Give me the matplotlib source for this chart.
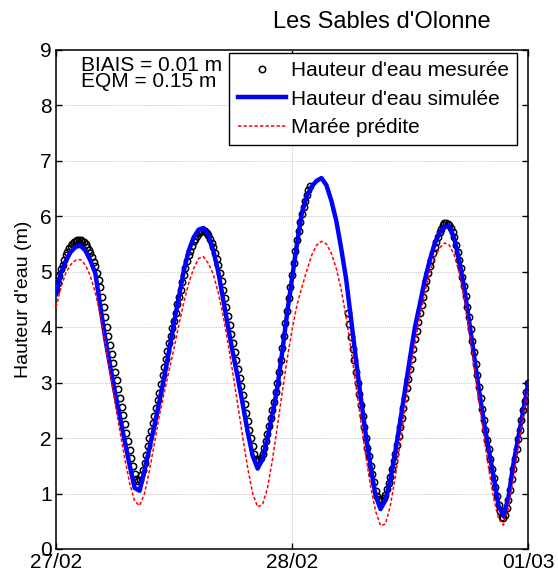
import numpy as np
import matplotlib
matplotlib.use('Agg')
import matplotlib.pyplot as plt

plt.rcParams['font.family'] = ['Liberation Sans', 'DejaVu Sans']

# water level, 27/02 00h -> 01/03 00h
# simulated and predicted: every 30 min
sim_level = [
    4.60, 4.98, 5.20, 5.36, 5.45, 5.47, 5.38, 5.20, 4.97, 4.38,
    3.80, 3.30, 2.82, 2.38, 1.93, 1.50, 1.10, 1.05, 1.42, 1.82,
    2.22, 2.65, 3.10, 3.58, 4.08, 4.55, 5.02, 5.38, 5.62, 5.76,
    5.79, 5.66, 5.38, 5.00, 4.50, 4.00, 3.52, 3.08, 2.60, 2.10,
    1.68, 1.45, 1.62, 2.00, 2.42, 2.90, 3.55, 4.25, 4.88, 5.50,
    6.06, 6.36, 6.54, 6.64, 6.69, 6.56, 6.28, 5.92, 5.42, 4.87,
    4.15, 3.42, 2.72, 2.06, 1.48, 0.96, 0.72, 0.88, 1.25, 1.75,
    2.30, 2.88, 3.45, 4.00, 4.42, 4.85, 5.20, 5.50, 5.70, 5.81,
    5.82, 5.60, 5.20, 4.72, 4.12, 3.50, 2.88, 2.30, 1.80, 1.30,
    0.78, 0.60, 0.92, 1.52, 2.00, 2.48, 2.97,
]
tide_level = [
    4.36, 4.72, 4.98, 5.13, 5.21, 5.22, 5.12, 4.92, 4.62, 4.22,
    3.72, 3.18, 2.64, 2.12, 1.62, 1.18, 0.86, 0.78, 1.00, 1.42,
    1.90, 2.40, 2.82, 3.22, 3.62, 4.05, 4.45, 4.80, 5.06, 5.24,
    5.27, 5.15, 4.95, 4.62, 4.20, 3.70, 3.15, 2.58, 2.00, 1.45,
    1.00, 0.76, 0.80, 1.10, 1.60, 2.20, 2.82, 3.42, 3.95, 4.40,
    4.72, 5.02, 5.30, 5.48, 5.55, 5.50, 5.33, 5.06, 4.68, 4.18,
    3.60, 2.95, 2.30, 1.68, 1.12, 0.68, 0.42, 0.45, 0.78, 1.30,
    1.92, 2.55, 3.15, 3.70, 4.20, 4.62, 4.98, 5.25, 5.43, 5.52,
    5.48, 5.30, 4.98, 4.52, 3.95, 3.32, 2.68, 2.05, 1.45, 0.92,
    0.55, 0.43, 0.72, 1.25, 1.85, 2.40, 2.85,
]

# tide gauge: every 10 min, one row per hour (gauge gap around the 28/02 high tide)
nan = np.nan
obs_level = [
    4.67, 4.80, 4.92, 5.05, 5.13, 5.22,
    5.30, 5.36, 5.42, 5.47, 5.50, 5.53,
    5.56, 5.57, 5.58, 5.58, 5.56, 5.53,
    5.50, 5.45, 5.40, 5.34, 5.26, 5.18,
    5.10, 4.97, 4.85, 4.72, 4.54, 4.36,
    4.18, 4.01, 3.85, 3.68, 3.52, 3.36,
    3.20, 3.04, 2.88, 2.72, 2.56, 2.41,
    2.25, 2.09, 1.94, 1.78, 1.64, 1.49,
    1.35, 1.27, 1.23, 1.25, 1.33, 1.43,
    1.55, 1.70, 1.85, 2.00, 2.13, 2.27,
    2.40, 2.54, 2.68, 2.82, 2.97, 3.13,
    3.28, 3.43, 3.57, 3.72, 3.85, 3.99,
    4.12, 4.26, 4.41, 4.55, 4.68, 4.82,
    4.95, 5.07, 5.19, 5.30, 5.38, 5.47,
    5.55, 5.60, 5.65, 5.70, 5.72, 5.74,
    5.74, 5.73, 5.70, 5.66, 5.59, 5.52,
    5.45, 5.34, 5.23, 5.12, 4.97, 4.83,
    4.68, 4.52, 4.36, 4.20, 4.04, 3.88,
    3.72, 3.56, 3.41, 3.25, 3.09, 2.94,
    2.78, 2.62, 2.46, 2.30, 2.15, 2.00,
    1.85, 1.72, 1.62, 1.58, 1.60, 1.65,
    1.72, 1.83, 1.95, 2.08, 2.22, 2.36,
    2.50, 2.66, 2.83, 3.00, 3.20, 3.41,
    3.62, 3.85, 4.07, 4.30, 4.52, 4.73,
    4.95, 5.16, 5.37, 5.58, 5.74, 5.89,
    6.05, 6.16, 6.27, 6.38, 6.47, 6.54,
    nan, nan, nan, nan, nan, nan,
    nan, nan, nan, nan, nan, nan,
    nan, nan, nan, nan, nan, nan,
    nan, nan, nan, nan, 4.26, 4.05,
    3.82, 3.61, 3.41, 3.20, 3.00, 2.80,
    2.60, 2.40, 2.20, 2.00, 1.83, 1.67,
    1.50, 1.35, 1.20, 1.05, 0.96, 0.90,
    0.88, 0.89, 0.92, 0.98, 1.08, 1.19,
    1.30, 1.44, 1.58, 1.72, 1.88, 2.04,
    2.20, 2.37, 2.55, 2.72, 2.90, 3.07,
    3.25, 3.43, 3.60, 3.78, 3.94, 4.09,
    4.25, 4.40, 4.55, 4.70, 4.83, 4.97,
    5.10, 5.22, 5.33, 5.45, 5.54, 5.63,
    5.72, 5.78, 5.84, 5.88, 5.88, 5.87,
    5.85, 5.79, 5.71, 5.62, 5.49, 5.35,
    5.22, 5.06, 4.91, 4.75, 4.56, 4.37,
    4.18, 3.97, 3.76, 3.55, 3.34, 3.13,
    2.92, 2.72, 2.52, 2.32, 2.15, 1.97,
    1.80, 1.63, 1.45, 1.28, 1.12, 0.96,
    0.80, 0.68, 0.58, 0.55, 0.62, 0.74,
    0.88, 1.07, 1.26, 1.45, 1.63, 1.80,
    1.98, 2.15, 2.33, 2.50, 2.67, 2.83,
    3.00,
]

day_ticks = [0, 24, 48]
day_labels = ['27/02', '28/02', '01/03']
stats = ['BIAIS = 0.01 m', 'EQM = 0.15 m']

t_model = np.linspace(0, 48, len(sim_level))
t_obs = np.linspace(0, 48, len(obs_level))

fig = plt.figure(figsize=(5.58, 5.78), dpi=100)
ax = fig.add_axes([0.1004, 0.0502, 0.8459, 0.8633])

ax.plot(t_obs, obs_level, 'o', ms=4.6, mfc='none', mec='black', mew=1.1,
        label="Hauteur d'eau mesurée", zorder=2)
ax.plot(t_model, sim_level, color='#0000ff', lw=3.2,
        label="Hauteur d'eau simulée", zorder=3)
ax.plot(t_model, tide_level, color='#ff0000', lw=1.1, dashes=(2.2, 1.4),
        label='Marée prédite', zorder=4)

ax.set_xlim(0, 48)
ax.set_ylim(0, 9)
ax.set_xticks(day_ticks)
ax.set_xticklabels(day_labels)
ax.set_yticks(range(10))
ax.grid(True, color='#c8c8c8', lw=0.7, ls=(0, (1, 1)))
ax.set_axisbelow(True)
ax.tick_params(direction='in', length=4, width=1, labelsize=15, pad=3,
               top=True, right=True)
for sp in ax.spines.values():
    sp.set_linewidth(1.1)

ax.set_ylabel("Hauteur d'eau (m)", fontsize=14, labelpad=6)

ax.text(0.052, 0.988, stats[0], transform=ax.transAxes, fontsize=15,
        va='top', ha='left')
ax.text(0.052, 0.955, stats[1], transform=ax.transAxes, fontsize=15,
        va='top', ha='left')

leg = ax.legend(loc='upper right', bbox_to_anchor=(0.977, 0.994), fontsize=15,
                numpoints=1, fancybox=False, framealpha=1, edgecolor='black',
                handlelength=2.3, handletextpad=0.25, labelspacing=0.45,
                borderpad=0.4, borderaxespad=0)
leg.get_frame().set_linewidth(1.0)

fig.text(0.685, 0.962, "Les Sables d'Olonne", fontsize=17, ha='center', va='center')

fig.savefig('out.png', dpi=100)
